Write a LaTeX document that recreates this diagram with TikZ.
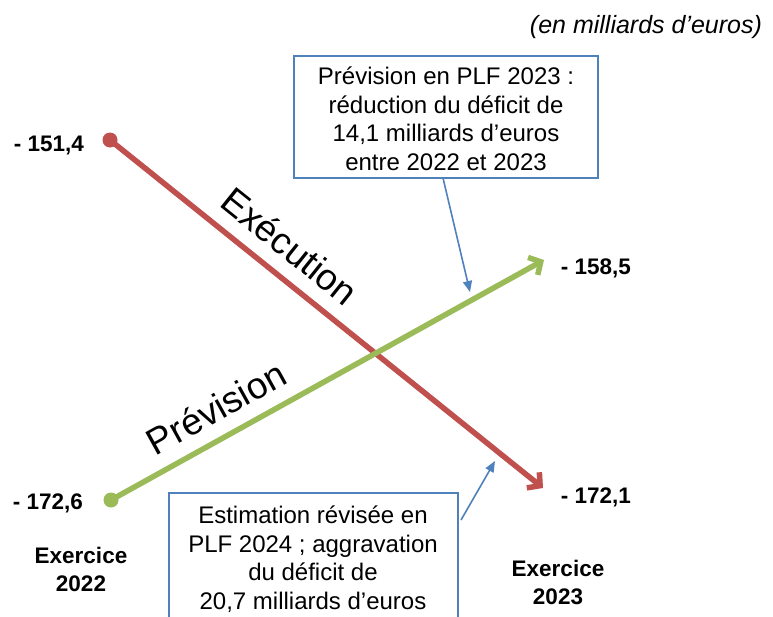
\documentclass[tikz,border=0pt]{standalone}
\usepackage{fontspec}
\setmainfont{Liberation Sans}
\usetikzlibrary{arrows.meta}
\definecolor{cred}{HTML}{C0504D}
\definecolor{cgreen}{HTML}{9BBB59}
\definecolor{cblue}{HTML}{4F81BD}
\tikzset{
  val/.style={font=\bfseries\fontsize{22.5}{28}\selectfont, anchor=center, inner sep=0pt},
  boxtext/.style={align=center, font=\fontsize{24}{28.5}\selectfont, inner sep=0pt},
  boxframe/.style={draw=cblue, line width=1.6pt, fill=white},
  bigline/.style={line width=5.5pt},
  callout/.style={draw=cblue, line width=1.6pt, -{Triangle[length=11pt,width=9pt]}},
  diag/.style={font=\fontsize{37}{40}\selectfont, inner sep=0pt}
}
\begin{document}
\begin{tikzpicture}[x=1pt,y=-1pt]
\useasboundingbox (0,0) rectangle (773,616);
\fill[white] (0,0) rectangle (773,616);
% main lines
\coordinate (r0) at (110,140);
\coordinate (r1) at (543,488);
\coordinate (g0) at (111,500);
\coordinate (g1) at (544,260);
\draw[bigline, cred, -{Straight Barb[length=9pt,width=20pt]}] (r0) -- (r1);
\fill[cred] (r0) circle (7.5);
\draw[bigline, cgreen, -{Straight Barb[length=9pt,width=20pt]}] (g0) -- (g1);
\fill[cgreen] (g0) circle (7.5);
% line labels
\node[diag, rotate=-38.7] (exe) at (290,246) {Exécution};
\node[diag, rotate=29] (prev) at (216,408) {Prévision};
% values
\node[val] (v1) at (49,145) {- 151,4};
\node[val] (v2) at (48,503) {- 172,6};
\node[val] (v3) at (596,268) {- 158,5};
\node[val] (v4) at (596,497) {- 172,1};
\node[val, align=center] (e1) at (81,569) {Exercice\\2022};
\node[val, align=center] (e2) at (558,582) {Exercice\\2023};
\node[font=\itshape\fontsize{25}{28}\selectfont, inner sep=0pt] (unit) at (646,27) {(en milliards d’euros)};
% top box
\draw[boxframe] (294,56) rectangle (598,178);
\node[boxtext] (tb) at (446,119)
  {Prévision en PLF 2023 :\\réduction du déficit de\\14,1 milliards d’euros\\entre 2022 et 2023};
\coordinate (tbs) at (443,178);
\coordinate (tbe) at (470,292);
\draw[callout] (tbs) -- (tbe);
% bottom box
\begin{scope}
\clip (0,0) rectangle (773,616);
\draw[boxframe] (169,493) rectangle (458,640);
\end{scope}
\node[boxtext] (bb) at (313,559)
  {Estimation révisée en\\PLF 2024 ; aggravation\\du déficit de\\20,7 milliards d’euros};
\coordinate (bbs) at (461,520);
\coordinate (bbe) at (495,461);
\draw[callout] (bbs) -- (bbe);
\end{tikzpicture}
\end{document}
